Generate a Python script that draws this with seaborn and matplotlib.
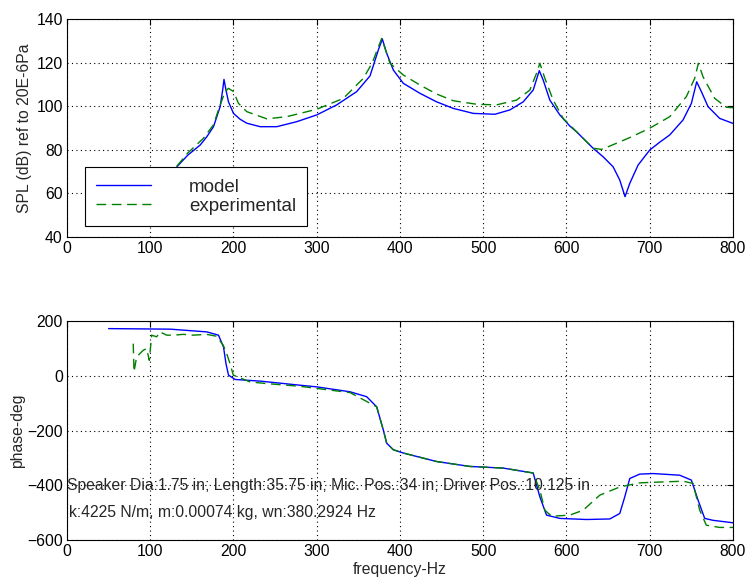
import numpy as np
import pandas as pd
import matplotlib
matplotlib.use("Agg")
import matplotlib.pyplot as plt
import seaborn as sns

# SPL magnitude (dB re 20E-6 Pa)
model_spl_f = [132, 145, 160, 168, 176, 184, 187, 188.6, 191, 194, 200, 208, 216, 232, 252, 276, 300,
               324, 348, 364, 374, 378.8, 384, 392, 404, 424, 444, 464, 488, 514, 532, 548, 560,
               567.3, 572, 580, 592, 604, 612, 622, 632, 644, 656, 664, 670.3, 676, 686, 700,
               712, 724, 740, 750, 756.4, 762, 770, 784, 800]
model_spl = [72.2, 77.5, 82.2, 86, 90.6, 99.8, 107.4, 112.3, 107.4, 102, 96.7, 94, 92.2, 90.6, 90.6, 92.9, 96,
             100.6, 106.7, 113.9, 125.8, 130.8, 124.3, 116.6, 110.5, 105.9, 102, 99, 96.7, 96.3, 98.3, 102, 107.4,
             116.3, 112, 102.8, 96, 90.9, 88.3, 84.5, 80.7, 76.8, 72.2, 66.1, 58.5, 64.6, 73, 79.9,
             83.5, 86.8, 93.7, 101.3, 111.2, 106.7, 99.8, 94.4, 92.1]

exp_spl_f = [132, 145, 164, 176, 184, 190, 194, 200, 206, 216, 240, 264, 300, 332, 356, 364,
             368, 378, 388, 404, 424, 444, 464, 492, 516, 540, 556, 564, 568, 574, 584, 596,
             612, 632, 642, 652, 676, 700, 724, 744, 754, 758.4, 764, 778, 792, 800]
exp_spl = [72.5, 78.5, 85.3, 91.5, 100.6, 106.7, 108.2, 106.7, 101.3, 97.5, 94.2, 95.2, 98.6, 103.6, 112.8, 118.1,
           121.2, 131.1, 119.7, 114.3, 109.7, 105.6, 102.5, 100.9, 100.6, 102.8, 107.4, 115.1, 119.7, 112.8, 102.8, 94.4,
           88.3, 80.7, 80.2, 81.7, 85.6, 89.9, 95.2, 104.4, 112.8, 119.7, 113.5, 103.6, 99.5, 99.3]

# Phase (degrees)
model_ph_f = [50, 124, 168, 182, 188, 191, 194, 202, 232, 280, 300, 340, 360, 372,
              380, 384, 392, 404, 444, 484, 524, 544, 560, 568, 576, 592, 624, 652, 664,
              670, 676, 688, 704, 736, 750, 758, 766, 776, 800]
model_ph = [173, 171, 161, 149, 106, 45, 3, -13, -19, -34, -40, -58, -76, -113,
            -198, -246, -270, -282, -313, -331, -337, -347, -355, -442, -509, -521, -525, -523, -503,
            -442, -375, -359, -357, -363, -381, -454, -521, -528, -537]

exp_ph_f = [79.6, 80.5, 83.7, 87.7, 91.7, 95.7, 98.9, 101.7, 107.7, 111.7, 119.8, 127.7, 139.7,
            151.7, 167.8, 179.8, 187.7, 191.8, 195.8, 199.8, 220, 240, 280, 340, 372,
            380, 384, 392, 404, 444, 484, 524, 544, 560, 568, 574, 582, 604, 620, 640, 664,
            688, 712, 740, 752, 760, 768, 784, 800]
exp_ph = [118, 15, 70, 82, 94, 100, 57, 149, 143, 161, 149, 149, 152,
          149, 152, 145, 112, 82, 45, 3, -22, -28, -38, -61, -113,
          -198, -246, -270, -282, -313, -331, -337, -347, -355, -418, -491, -513, -509, -491, -436, -406,
          -391, -388, -385, -393, -491, -546, -554, -554]

xticks = [0, 100, 200, 300, 400, 500, 600, 700, 800]
spl_ticks = [40, 60, 80, 100, 120, 140]
ph_ticks = [-600, -400, -200, 0, 200]

info_line1 = "Speaker Dia:1.75 in; Length:35.75 in; Mic. Pos.:34 in; Driver Pos.:10.125 in"
info_line2 = "k:4225 N/m, m:0.00074 kg, wn:380.2924 Hz"

sns.set_style("white")
plt.rcParams["font.family"] = ["Liberation Sans", "DejaVu Sans"]
FS = 11.3
plt.rcParams["font.size"] = FS

BLUE = "#0000ff"
GREEN = "#008000"

spl_df = pd.concat([
    pd.DataFrame({"f": model_spl_f, "v": model_spl, "series": "model"}),
    pd.DataFrame({"f": exp_spl_f, "v": exp_spl, "series": "experimental"}),
])
ph_df = pd.concat([
    pd.DataFrame({"f": model_ph_f, "v": model_ph, "series": "model"}),
    pd.DataFrame({"f": exp_ph_f, "v": exp_ph, "series": "experimental"}),
])

fig = plt.figure(figsize=(7.45, 5.85), dpi=100)
ax1 = fig.add_axes([0.0899, 0.5949, 0.894, 0.3726])
ax2 = fig.add_axes([0.0899, 0.0769, 0.894, 0.374])

palette = {"model": BLUE, "experimental": GREEN}
dashes = {"model": "", "experimental": (7, 4)}

for ax, df in ((ax1, spl_df), (ax2, ph_df)):
    sns.lineplot(data=df, x="f", y="v", hue="series", style="series",
                 palette=palette, dashes=dashes, estimator=None, sort=False,
                 linewidth=1.0, ax=ax, legend=(ax is ax1))

def style_axes(ax, yticks, ylim):
    ax.set_xlim(0, 800)
    ax.set_ylim(*ylim)
    ax.set_xticks(xticks)
    ax.set_yticks(yticks)
    ax.grid(True, color="black", linestyle=(0, (1, 3)), linewidth=0.8)
    ax.tick_params(direction="in", top=True, right=True, length=4, labelsize=FS,
                   color="black", labelcolor="black", pad=3)
    for s in ax.spines.values():
        s.set_color("black")
        s.set_linewidth(0.8)
    ax.set_xlabel("")
    ax.set_ylabel("")

style_axes(ax1, spl_ticks, (40, 140))
style_axes(ax2, ph_ticks, (-600, 200))

ax1.set_ylabel("SPL (dB) ref to 20E-6Pa", fontsize=FS, labelpad=3)
ax2.set_ylabel("phase-deg", fontsize=FS, labelpad=1)
ax2.set_xlabel("frequency-Hz", fontsize=FS, labelpad=2)

handles, labels = ax1.get_legend_handles_labels()
leg = ax1.legend(handles, labels, loc="lower left", bbox_to_anchor=(0.027, 0.05),
                 prop={"size": 13.5}, frameon=True, fancybox=False, framealpha=1,
                 edgecolor="black", handlelength=2.9, handletextpad=2.05,
                 borderpad=0.6, labelspacing=0.1, borderaxespad=0)
leg.get_frame().set_linewidth(0.8)
for line in leg.get_lines():
    line.set_linewidth(1.0)

ax2.text(0, -400, info_line1, fontsize=FS, va="center", ha="left")
ax2.text(3, -500, info_line2, fontsize=FS, va="center", ha="left")

fig.savefig("out.png", dpi=100)
